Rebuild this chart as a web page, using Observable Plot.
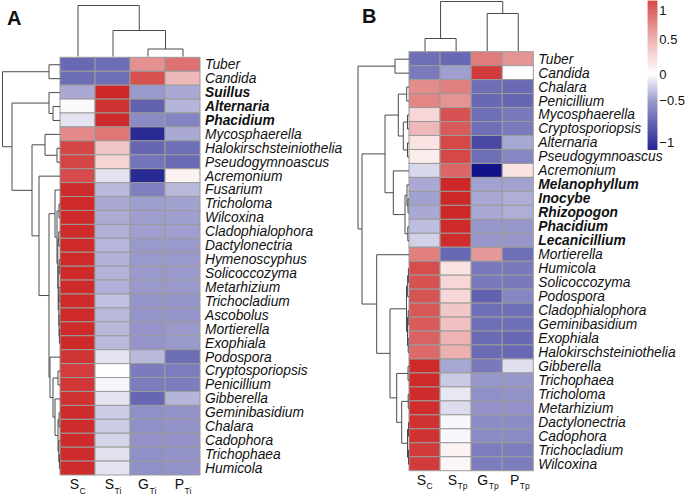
<!DOCTYPE html>
<html><head><meta charset="utf-8">
<script src="https://cdn.jsdelivr.net/npm/d3@7"></script>
<script src="https://cdn.jsdelivr.net/npm/@observablehq/plot@0.6"></script>
<style>
body{margin:0;background:#fff;}
#root{position:relative;width:685px;height:496px;overflow:hidden;background:#fff;}
#root svg{position:absolute;left:0;top:0;}
</style>
</head><body><div id="root"></div>
<script>
// ---------- Panel A data ----------
const rowsA = ["Tuber","Candida","Suillus","Alternaria","Phacidium","Mycosphaerella","Halokirschsteiniothelia","Pseudogymnoascus","Acremonium","Fusarium","Tricholoma","Wilcoxina","Cladophialophora","Dactylonectria","Hymenoscyphus","Solicoccozyma","Metarhizium","Trichocladium","Ascobolus","Mortierella","Exophiala","Podospora","Cryptosporiopsis","Penicillium","Gibberella","Geminibasidium","Chalara","Cadophora","Trichophaea","Humicola"];
const boldA = ["Suillus","Alternaria","Phacidium"];
const colsA = ["Sc","STi","GTi","PTi"];
const colMainA = ["S","S","G","P"];
const colSubA = ["C","Ti","Ti","Ti"];
const scA  = [-0.65,-0.63,-0.37,-0.02,-0.12,0.63,0.99,0.99,0.97,1.13,1.14,1.14,1.14,1.14,1.14,1.14,1.14,1.14,1.14,1.14,1.14,1.08,1.04,1.07,1.1,1.13,1.13,1.13,1.13,1.13];
const stiA = [-0.63,-0.62,1.15,1.1,1.13,0.73,0.31,0.23,-0.12,-0.3,-0.37,-0.36,-0.34,-0.31,-0.33,-0.33,-0.34,-0.27,-0.3,-0.3,-0.3,-0.12,-0.01,-0.04,-0.12,-0.22,-0.22,-0.18,-0.13,-0.12];
const gtiA = [0.59,0.93,-0.44,-0.68,-0.5,-0.92,-0.66,-0.6,-0.92,-0.55,-0.42,-0.42,-0.42,-0.44,-0.44,-0.44,-0.44,-0.46,-0.46,-0.46,-0.46,-0.3,-0.57,-0.57,-0.66,-0.48,-0.48,-0.47,-0.48,-0.48];
const ptiA = [0.76,0.38,-0.37,-0.32,-0.53,-0.37,-0.62,-0.64,0.07,-0.3,-0.4,-0.42,-0.42,-0.44,-0.44,-0.44,-0.44,-0.46,-0.46,-0.44,-0.44,-0.63,-0.56,-0.56,-0.32,-0.47,-0.47,-0.47,-0.47,-0.47];
const treeRowsA = [57.5,
  [11, "Tuber", "Candida"],
  [48,
    [11, "Suillus", [7, "Alternaria", "Phacidium"]],
    [28,
      [15, "Mycosphaerella", [3, "Halokirschsteiniothelia", "Pseudogymnoascus"]],
      [21, "Acremonium",
        [11,
          [5, "Fusarium",
            [3, [1, "Tricholoma", "Wilcoxina"],
                [2.2, [1.2, "Cladophialophora", "Dactylonectria"],
                      [1.8, [0.8, "Hymenoscyphus", "Solicoccozyma"],
                            [1.2, [1, "Metarhizium", "Trichocladium"],
                                  [0.9, "Ascobolus", [0.6, "Mortierella", "Exophiala"]]]]]]],
          [10, "Podospora",
            [7, [2, "Cryptosporiopsis", "Penicillium"],
                [5, "Gibberella",
                    [2, [1, "Geminibasidium", "Chalara"],
                        [1.2, "Cadophora", [0.6, "Trichophaea", "Humicola"]]]]]]]]]]];
const treeColsA = [51, "Sc", [26, "STi", [7.5, "GTi", "PTi"]]];

// ---------- Panel B data ----------
const rowsB = ["Tuber","Candida","Chalara","Penicillium","Mycosphaerella","Cryptosporiopsis","Alternaria","Pseudogymnoascus","Acremonium","Melanophyllum","Inocybe","Rhizopogon","Phacidium","Lecanicillium","Mortierella","Humicola","Solicoccozyma","Podospora","Cladophialophora","Geminibasidium","Exophiala","Halokirschsteiniothelia","Gibberella","Trichophaea","Tricholoma","Metarhizium","Dactylonectria","Cadophora","Trichocladium","Wilcoxina"];
const boldB = ["Melanophyllum","Inocybe","Rhizopogon","Phacidium","Lecanicillium"];
const colsB = ["Sc","STp","GTp","PTp"];
const colMainB = ["S","S","G","P"];
const colSubB = ["C","Tp","Tp","Tp"];
const scB  = [-0.62,-0.58,0.62,0.65,0.22,0.38,0.15,0.1,-0.17,-0.37,-0.4,-0.37,-0.28,-0.2,0.68,0.95,0.93,0.92,0.9,0.88,0.84,0.8,1.14,1.14,1.12,1.12,1.1,1.1,1.05,1.05];
const stpB = [-0.65,-0.42,0.68,0.58,0.92,0.88,0.98,0.98,0.82,1.15,1.15,1.15,1.14,1.12,-0.65,0.15,0.22,0.22,0.3,0.33,0.4,0.42,-0.38,-0.23,-0.1,-0.15,-0.03,-0.03,0.07,0.05];
const gtpB = [0.7,1.05,-0.62,-0.65,-0.62,-0.62,-0.78,-0.62,-1.02,-0.4,-0.37,-0.37,-0.45,-0.45,0.55,-0.58,-0.58,-0.68,-0.62,-0.62,-0.64,-0.64,-0.58,-0.45,-0.48,-0.47,-0.5,-0.5,-0.56,-0.56];
const ptpB = [0.58,-0.01,-0.64,-0.66,-0.58,-0.58,-0.38,-0.52,0.15,-0.4,-0.35,-0.35,-0.45,-0.45,-0.62,-0.58,-0.58,-0.52,-0.62,-0.62,-0.65,-0.65,-0.14,-0.45,-0.47,-0.47,-0.5,-0.5,-0.56,-0.56];
const treeRowsB = [51,
  [14, "Tuber", "Candida"],
  [47,
    [24,
      [10.7, [2.3, "Chalara", "Penicillium"],
             [5.7, [1.5, "Mycosphaerella", "Cryptosporiopsis"], [1.5, "Alternaria", "Pseudogymnoascus"]]],
      [15.7, "Acremonium",
             [4, [2, "Melanophyllum", [1, "Inocybe", "Rhizopogon"]], [1.2, "Phacidium", "Lecanicillium"]]]],
    [32.3, "Mortierella",
      [19,
        [2.5, [1.4, [0.6, "Humicola", "Solicoccozyma"], "Podospora"],
              [1.5, [0.8, "Cladophialophora", "Geminibasidium"], [0.8, "Exophiala", "Halokirschsteiniothelia"]]],
        [12.3, [1, "Gibberella", "Trichophaea"],
               [7.3, [0.8, "Tricholoma", "Metarhizium"],
                     [1.5, [0.5, "Dactylonectria", "Cadophora"], [0.5, "Trichocladium", "Wilcoxina"]]]]]]]];
const treeColsB = [49.5, [12.5, "Sc", "STp"], [37.5, "GTp", "PTp"]];

// ---------- legend ----------
const legendTicks = [-1, -0.5, 0, 0.5, 1];
const legendLabels = ["\u22121", "\u22120.5", "0", "0.5", "1"];
const legendTickPos = [142, 100, 74, 39, 10.5];
const legendStops = d3.range(-1.095, 1.166, 0.005);

// ---------- rendering ----------
const W = 685, H = 496;
const FONT = "'Liberation Sans', Arial, Helvetica, sans-serif";
const INK = "#111";
const colorScale = {type: "linear", domain: [-1.1, 0, 1.16], range: ["#000080", "#ffffff", "#cd2626"], interpolate: "rgb", clamp: true};
const STYLE = "position:absolute;left:0;top:0;background:transparent;overflow:visible;";

function frame(l, t, r, b) {
  return {width: W, height: H, marginLeft: l, marginTop: t, marginRight: W - r, marginBottom: H - b, style: STYLE};
}

function dendroSegments(tree, order) {
  const segs = [];
  (function walk(n) {
    if (typeof n === "string") return {p: order.indexOf(n), h: 0};
    const [h, a, b] = n;
    const L = walk(a), R = walk(b);
    segs.push({p1: L.p, h1: h, p2: R.p, h2: h});
    segs.push({p1: L.p, h1: L.h, p2: L.p, h2: h});
    segs.push({p1: R.p, h1: R.h, p2: R.p, h2: h});
    return {p: (L.p + R.p) / 2, h};
  })(tree);
  return segs;
}

function heatmap(rows, cols, series, bold, main, sub, box) {
  const table = rows.flatMap((r, i) => cols.map((c, j) => ({row: r, col: c, v: series[j][i]})));
  const normal = rows.filter(r => !bold.includes(r));
  const idx = d3.range(cols.length);
  return Plot.plot({
    ...frame(...box),
    x: {type: "band", domain: cols, padding: 0, round: false, axis: null},
    y: {type: "band", domain: rows, padding: 0, round: false, axis: null},
    color: colorScale,
    marks: [
      Plot.cell(table, {x: "col", y: "row", fill: "v", stroke: "#9b9b9b", strokeWidth: 1}),
      Plot.text(normal, {y: d => d, frameAnchor: "right", textAnchor: "start", dx: 4.5, fontSize: 13.8, fontStyle: "italic", fontFamily: FONT, fill: INK}),
      Plot.text(bold, {y: d => d, frameAnchor: "right", textAnchor: "start", dx: 4.5, fontSize: 13.8, fontStyle: "italic", fontWeight: "bold", fontFamily: FONT, fill: INK}),
      Plot.text(idx, {x: i => cols[i], text: i => main[i], frameAnchor: "bottom", lineAnchor: "top", textAnchor: "end", dx: 1, dy: 4, fontSize: 14, fontFamily: FONT, fill: INK}),
      Plot.text(idx, {x: i => cols[i], text: i => sub[i], frameAnchor: "bottom", lineAnchor: "top", textAnchor: "start", dx: 1.5, dy: 12, fontSize: 8.5, fontFamily: FONT, fill: INK})
    ]
  });
}

function rowDendro(tree, rows, hmax, xr, yr, label, ldx, ldy) {
  return Plot.plot({
    ...frame(0, 0, W, H),
    x: {type: "linear", domain: [0, hmax], range: xr, axis: null},
    y: {type: "linear", domain: [-0.5, rows.length - 0.5], range: yr, axis: null},
    marks: [
      Plot.link(dendroSegments(tree, rows), {x1: "h1", y1: "p1", x2: "h2", y2: "p2", stroke: "#4a4a4a", strokeWidth: 1}),
      Plot.text([label], {frameAnchor: "top-left", textAnchor: "start", lineAnchor: "top", dx: ldx, dy: ldy, fontSize: 20, fontWeight: "bold", fontFamily: FONT, fill: INK})
    ]
  });
}

function colDendro(tree, cols, hmax, xr, yr) {
  return Plot.plot({
    ...frame(0, 0, W, H),
    x: {type: "linear", domain: [-0.5, cols.length - 0.5], range: xr, axis: null},
    y: {type: "linear", domain: [0, hmax], range: yr, axis: null},
    marks: [
      Plot.link(dendroSegments(tree, cols), {x1: "p1", y1: "h1", x2: "p2", y2: "h2", stroke: "#4a4a4a", strokeWidth: 1})
    ]
  });
}

const legend = Plot.plot({
  ...frame(647.7, 1, 657.3, 150),
  x: {type: "linear", domain: [0, 1], axis: null},
  y: {type: "linear", domain: legendTicks, range: legendTickPos, axis: null},
  color: colorScale,
  marks: [
    Plot.rect(legendStops, {x1: 0, x2: 1, y1: d => d, y2: d => d + 0.007, fill: d => d}),
    Plot.text(legendTicks, {y: d => d, text: (d, i) => legendLabels[i], frameAnchor: "right", textAnchor: "start", dx: 1.5, fontSize: 13, fontFamily: FONT, fill: INK})
  ]
});

const root = document.getElementById("root");
root.append(
  heatmap(rowsA, colsA, [scA, stiA, gtiA, ptiA], boldA, colMainA, colSubA, [60, 57.3, 200, 475]),
  rowDendro(treeRowsA, rowsA, 57.5, [59.5, 2], [57.3, 475], "A", 6.5, 10),
  colDendro(treeColsA, colsA, 51, [60, 200], [56, 5]),
  heatmap(rowsB, colsB, [scB, stpB, gtpB, ptpB], boldB, colMainB, colSubB, [409, 51.7, 533.3, 470.7]),
  rowDendro(treeRowsB, rowsB, 51, [408.5, 357.5], [51.7, 470.7], "B", 361.5, 8.5),
  colDendro(treeColsB, colsB, 49.5, [409, 533.3], [50.5, 1]),
  legend
);
</script>
</body></html>
